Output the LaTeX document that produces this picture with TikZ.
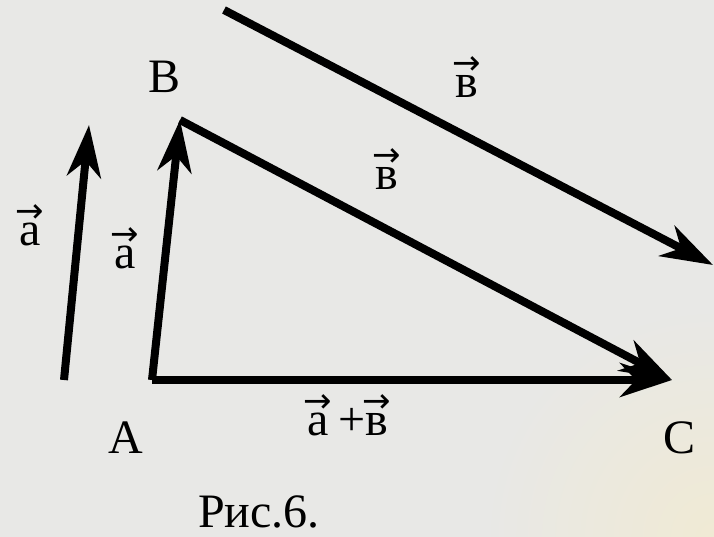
\documentclass[tikz,border=0pt]{standalone}
\usepackage{fontspec}
\setmainfont{Liberation Serif}
\newfontfamily\arwfont{DejaVu Sans}
\usetikzlibrary{arrows.meta}
\newcommand\vlab[1]{\setbox0\hbox{#1}\rlap{\hbox to \wd0{\hss\raisebox{23pt}{\arwfont\fontsize{34}{34}\selectfont →}\hss}}\box0}
\definecolor{bgc}{RGB}{232,232,230}
\definecolor{bgw}{RGB}{240,234,212}
\begin{document}
\begin{tikzpicture}[x=1pt,y=-1pt,
  vecarrow/.style={line width=8pt, -{Stealth[length=52pt,width=34pt,inset=16pt]}},
  lab/.style={anchor=base, inner sep=0pt, font=\fontsize{48}{48}\selectfont}]
\clip (0,0) rectangle (714,537);
\useasboundingbox (0,0) rectangle (714,537);
\fill[bgc] (0,0) rectangle (714,537);
\shade[inner color=bgw, outer color=bgc] (714,537) circle[radius=230];
% points
\coordinate (pA) at (152,380);
\coordinate (pB) at (180,120);
\coordinate (pC) at (672,380);
\coordinate (tS) at (224,10);
\coordinate (tE) at (713,265);
\coordinate (lS) at (64,380);
\coordinate (lE) at (89,125);
% arrows
\draw[vecarrow] (tS) -- (tE);
\draw[vecarrow] (lS) -- (lE);
\draw[vecarrow] (pA) -- (pB);
\draw[vecarrow] (pB) -- (pC);
\draw[vecarrow] (pA) -- (pC);
% labels
\node[lab] (nB) at (165,93) {B};
\node[lab] (nA) at (126,453) {A};
\node[lab] (nC) at (679,453) {C};
\node[lab] (bTop) at (467,98) {\vlab{в}};
\node[lab] (bMid) at (387,190) {\vlab{в}};
\node[lab] (aLeft) at (30,246) {\vlab{a}};
\node[lab] (aMid) at (125,269) {\vlab{a}};
\node[lab] (sum) at (348,435) {\vlab{a}\hspace{10pt}+\vlab{в}};
\node[lab] (cap) at (259,527) {Рис.6.};
\end{tikzpicture}
\end{document}
